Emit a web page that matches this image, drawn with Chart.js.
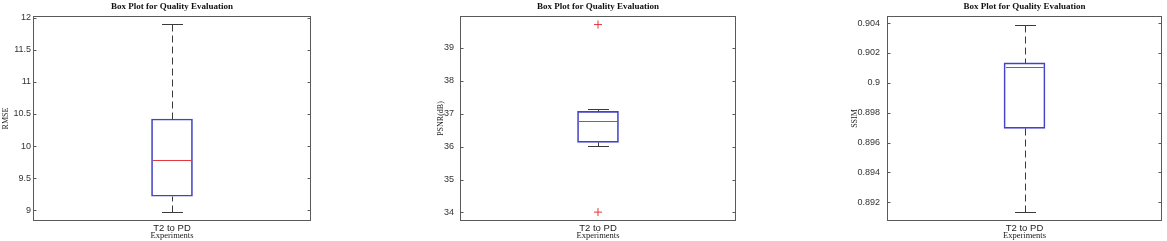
<!DOCTYPE html>
<html>
<head>
<meta charset="utf-8">
<script src="https://cdn.jsdelivr.net/npm/chart.js@4.4.1/dist/chart.umd.min.js"></script>
<style>
  body { margin: 0; background: #fff; }
  #wrap { position: relative; width: 1167px; height: 241px; overflow: hidden; background: #fff; }
  canvas { position: absolute; top: 0; }
</style>
</head>
<body>
<div id="wrap">
  <canvas id="c0" width="320" height="241" style="left:0px"></canvas>
  <canvas id="c1" width="310" height="241" style="left:436px"></canvas>
  <canvas id="c2" width="317" height="241" style="left:850px"></canvas>
</div>
<script>
"use strict"

// data
const categories = ['T2 to PD'];
const metricNames = ['RMSE', 'PSNR(dB)', 'SSIM'];
const whiskerLow = [8.973, 36.02, 0.89133];
const quartile1 = [9.218, 36.13, 0.89695];
const medians = [9.779, 36.78, 0.90109];
const quartile3 = [10.422, 37.07, 0.90133];
const whiskerHigh = [11.897, 37.13, 0.90385];
const outliers = [[], [39.71, 34.01], []];

// axis settings
const yMin = [8.833, 33.74, 0.89075];
const yMax = [12.026, 39.97, 0.90447];
const yStep = [0.5, 1, 0.002];

// layout per panel
const yAxisWidth = [32, 24, 37];
const tickPad = [2, 6, 7];
const padLeft = [1, 0, 0];
const padRight = [9, 10, 5];

const boxParts = {
  id: 'boxParts',
  afterDatasetsDraw(chart, args, opts) {
    const i = opts.idx;
    const ctx = chart.ctx;
    const xs = chart.scales.x, ys = chart.scales.y;
    const bar = chart.getDatasetMeta(0).data[0];
    const x = Math.round(xs.getPixelForValue(0)) + 0.5;
    const py = v => Math.round(ys.getPixelForValue(v)) + 0.5;
    const half = bar.width / 2;
    ctx.save();
    ctx.lineWidth = 1;
    // whiskers
    ctx.strokeStyle = '#3a3a3a';
    ctx.setLineDash([7, 4]);
    ctx.beginPath();
    ctx.moveTo(x, py(whiskerHigh[i]));
    ctx.lineTo(x, py(quartile3[i]));
    ctx.moveTo(x, py(whiskerLow[i]));
    ctx.lineTo(x, py(quartile1[i]));
    ctx.stroke();
    ctx.setLineDash([]);
    ctx.beginPath();
    ctx.moveTo(x - 10.5, py(whiskerHigh[i]));
    ctx.lineTo(x + 10.5, py(whiskerHigh[i]));
    ctx.moveTo(x - 10.5, py(whiskerLow[i]));
    ctx.lineTo(x + 10.5, py(whiskerLow[i]));
    ctx.stroke();
    // median
    ctx.strokeStyle = '#e0393e';
    ctx.beginPath();
    ctx.moveTo(x - half + 1, py(medians[i]));
    ctx.lineTo(x + half - 1, py(medians[i]));
    ctx.stroke();
    ctx.restore();
  },
  afterDraw(chart) {
    const ctx = chart.ctx;
    const a = chart.chartArea;
    const ys = chart.scales.y;
    ctx.save();
    ctx.strokeStyle = '#5a5a5a';
    ctx.lineWidth = 1;
    const l = Math.round(a.left) + 0.5, r = Math.round(a.right) - 0.5;
    const t = Math.round(a.top) + 0.5, b = Math.round(a.bottom) - 0.5;
    ctx.strokeRect(l, t, r - l, b - t);
    ctx.beginPath();
    ys.ticks.forEach(tk => {
      const y = Math.round(ys.getPixelForValue(tk.value)) + 0.5;
      ctx.moveTo(l, y); ctx.lineTo(l + 3, y);
      ctx.moveTo(r, y); ctx.lineTo(r - 3, y);
    });
    ctx.stroke();
    ctx.restore();
  }
};

function makeChart(i) {
  new Chart(document.getElementById('c' + i), {
    type: 'bar',
    data: {
      labels: categories,
      datasets: [{
        data: [[quartile1[i], quartile3[i]]],
        backgroundColor: 'rgba(255,255,255,0)',
        borderColor: '#4343c8',
        borderWidth: 1,
        borderSkipped: false,
        barThickness: 41,
      }, {
        type: 'line',
        data: outliers[i].map(v => ({ x: categories[0], y: v })),
        showLine: false,
        pointStyle: 'cross',
        pointRadius: 4,
        borderColor: '#e0393e',
        borderWidth: 1,
      }]
    },
    options: {
      responsive: false,
      animation: false,
      layout: { padding: { left: padLeft[i], right: padRight[i], top: 0, bottom: 0 } },
      plugins: {
        legend: { display: false },
        tooltip: { enabled: false },
        title: {
          display: true,
          text: 'Box Plot for Quality Evaluation',
          fullSize: false,
          color: '#111',
          font: { family: '"Liberation Serif", serif', size: 9, weight: 'bold' },
          padding: { top: 1, bottom: 4.2 },
        },
        boxParts: { idx: i },
      },
      scales: {
        x: {
          type: 'category',
          offset: true,
          grid: { display: false, drawTicks: false },
          border: { display: false },
          ticks: { color: '#222', padding: 2, font: { family: '"Liberation Sans", Arial, sans-serif', size: 9.5 } },
          title: {
            display: true,
            text: 'Experiments',
            color: '#222',
            padding: 0,
            font: { family: '"Liberation Serif", serif', size: 8.5, weight: 'normal' },
          },
          afterFit: s => { s.height = 20 },
        },
        y: {
          min: yMin[i],
          max: yMax[i],
          grid: { display: false, drawTicks: false },
          border: { display: false },
          ticks: {
            stepSize: yStep[i],
            includeBounds: false,
            color: '#333',
            padding: tickPad[i],
            font: { family: '"Liberation Sans", Arial, sans-serif', size: 9 },
            callback: v => String(+(+v).toFixed(4)),
          },
          title: {
            display: true,
            text: metricNames[i],
            color: '#222',
            padding: 0,
            font: { family: '"Liberation Serif", serif', size: 8, weight: 'normal' },
          },
          afterFit: s => { s.width = yAxisWidth[i] },
        }
      }
    },
    plugins: [boxParts]
  });
}

[0, 1, 2].forEach(makeChart);
</script>
</body>
</html>
